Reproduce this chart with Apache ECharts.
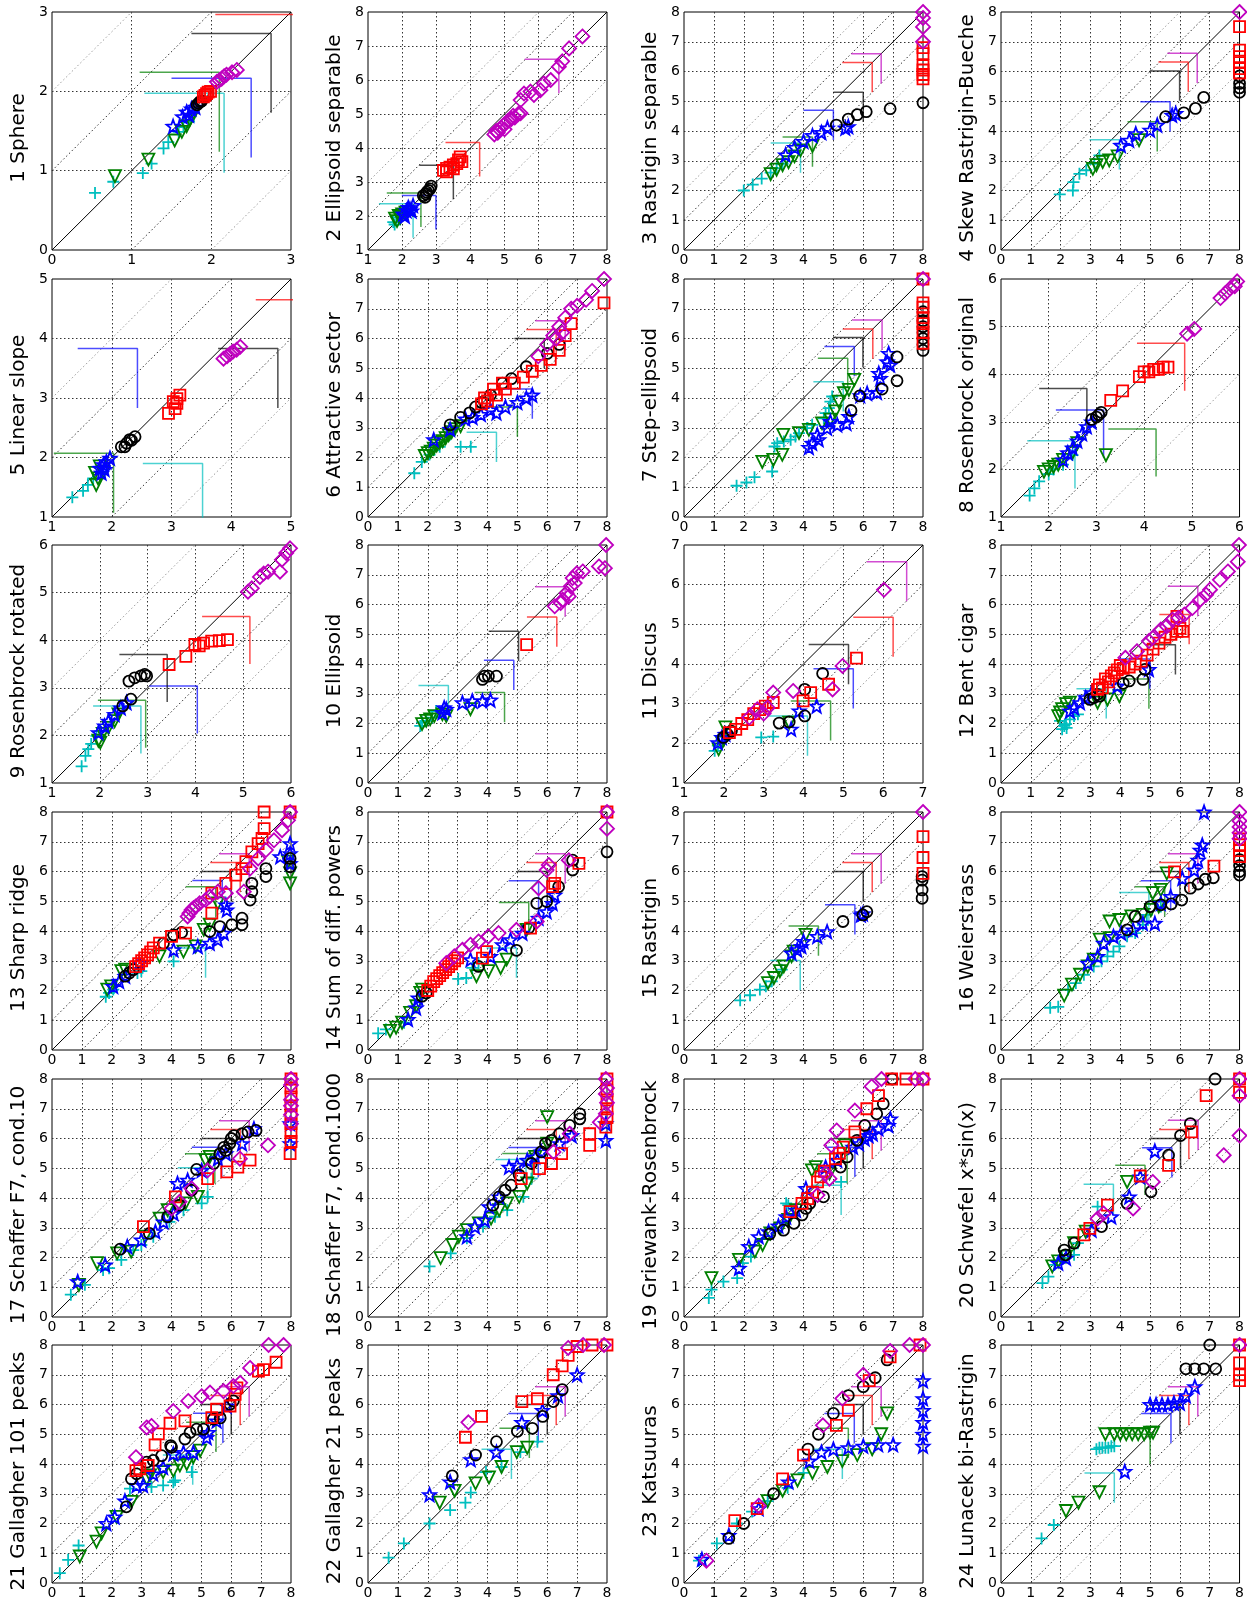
<!DOCTYPE html>
<html><head><meta charset="utf-8">
<script src="https://cdn.jsdelivr.net/npm/echarts@6/dist/echarts.min.js"></script>
<style>html,body{margin:0;padding:0;background:#fff}#c{width:1247px;height:1604px}</style>
</head><body><div id="c"></div>
<script>
const titles = ["1 Sphere","2 Ellipsoid separable","3 Rastrigin separable","4 Skew Rastrigin-Bueche",
"5 Linear slope","6 Attractive sector","7 Step-ellipsoid","8 Rosenbrock original",
"9 Rosenbrock rotated","10 Ellipsoid","11 Discus","12 Bent cigar",
"13 Sharp ridge","14 Sum of diff. powers","15 Rastrigin","16 Weierstrass",
"17 Schaffer F7, cond.10","18 Schaffer F7, cond.1000","19 Griewank-Rosenbrock","20 Schwefel x*sin(x)",
"21 Gallagher 101 peaks","22 Gallagher 21 peaks","23 Katsuuras","24 Lunacek bi-Rastrigin"];
const axisMin = [0,1,0,0, 1,0,0,1, 1,0,1,0, 0,0,0,0, 0,0,0,0, 0,0,0,0];
const axisMax = [3,8,8,8, 5,8,8,6, 6,8,7,8, 8,8,8,8, 8,8,8,8, 8,8,8,8];

const cyanPts = [
[[0.54,0.72],[0.77,0.86],[1.14,0.97],[1.25,1.09],[1.40,1.28],[1.46,1.36],[1.59,1.49],[1.65,1.55],[1.72,1.62]],
[[1.74,1.82],[1.83,1.96],[1.93,2.06],[1.78,1.75]],
[[2.0,2.0],[2.3,2.2],[2.6,2.4],[2.9,2.6],[3.1,2.75],[3.3,2.9]],
[[1.97,1.87],[2.41,2.0],[2.43,2.28],[2.63,2.56],[2.86,2.68],[3.13,2.9],[3.3,3.18]],
[[1.34,1.33],[1.52,1.44],[1.6,1.54],[1.69,1.65]],
[[1.55,1.47],[1.8,1.85],[2.06,2.1],[2.4,2.36],[3.1,2.36],[3.44,2.36],[2.75,2.77],[2.2,2.25]],
[[1.76,1.05],[2.09,1.16],[2.36,1.34],[2.95,1.53],[3.03,2.37],[3.12,2.48],[3.34,2.54],[3.57,2.6],[3.73,2.71],[3.85,2.82],[4.12,2.99],[4.29,3.1],[4.68,3.32],[4.74,3.49],[4.85,3.66],[4.9,3.88],[4.96,4.05]],
[[1.6,1.45],[1.7,1.6],[1.8,1.75],[2.0,1.9],[2.1,2.0],[2.3,2.1],[2.5,2.3]],
[[1.62,1.35],[1.7,1.57],[1.76,1.71],[1.82,1.82],[1.93,1.99],[2.01,2.09]],
[[1.75,1.92],[1.81,2.04],[1.95,2.09],[2.15,2.2],[2.28,2.42]],
[[1.77,1.81],[1.85,1.94],[2.94,2.15],[3.24,2.17]],
[[2.05,1.81],[2.12,1.92],[2.18,1.98],[2.31,2.14],[2.45,2.25],[2.58,2.31],[1.98,2.09],[2.2,1.85]],
[[1.8,1.79],[1.91,1.92],[2.05,2.03],[2.86,2.59],[2.99,2.65],[4.07,2.98]],
[[0.34,0.56],[0.6,0.69],[1.21,0.92],[3.02,2.39],[3.29,2.42],[3.49,2.76],[3.7,2.92]],
[[1.88,1.67],[2.21,1.84],[2.54,2.03],[2.74,2.14],[2.94,2.31],[3.27,2.7]],
[[1.65,1.42],[1.92,1.45],[2.25,2.03],[2.51,2.25],[2.78,2.53],[3.11,2.81],[3.37,2.98],[3.57,3.15],[3.77,3.31],[3.97,3.48],[4.23,3.82],[4.5,3.93],[4.76,4.21],[4.89,4.54],[5.36,4.82]],
[[0.63,0.75],[1.1,1.08],[1.71,1.58],[1.91,1.64],[2.32,1.92],[2.72,2.25],[2.99,2.42],[3.39,2.7],[3.93,3.2],[4.4,3.59],[5.01,3.82],[5.21,4.04]],
[[2.06,1.7],[2.77,2.14],[3.31,2.65],[3.85,3.04],[4.25,3.37],[4.66,3.59],[5.2,4.04],[5.47,4.65]],
[[0.83,0.64],[0.92,0.92],[1.32,1.19],[1.78,1.31],[1.97,1.81],[2.24,2.03],[3.42,3.82],[3.49,3.76],[5.26,4.54]],
[[1.39,1.14],[1.59,1.36],[1.79,1.75],[2.05,1.98],[2.45,2.09],[2.58,2.48],[3.24,3.71]],
[[0.26,0.33],[0.54,0.78],[0.89,1.26],[2.61,3.17],[3.33,3.23],[3.72,3.28],[4.06,3.39],[4.12,3.45],[4.68,3.73]],
[[0.69,0.85],[1.2,1.33],[2.06,2.0],[2.75,2.45],[3.26,2.7],[3.44,3.04],[3.95,3.73],[4.47,3.9],[5.1,4.4],[5.67,4.75]],
[[0.5,0.75],[1.1,1.33],[1.77,2.0],[2.28,2.4],[2.8,2.75],[3.47,3.2],[4.0,3.7]],
[[1.36,1.5],[1.77,1.95],[3.2,4.5],[3.3,4.55],[3.4,4.55],[3.5,4.55],[3.6,4.55],[3.7,4.6],[3.8,4.6]]
];
const greenPts = [
[[0.79,0.93],[1.21,1.14],[1.54,1.38],[1.63,1.49],[1.69,1.56],[1.73,1.64],[1.78,1.72]],
[[1.79,1.92],[1.9,2.0],[2.0,2.05],[2.1,2.1],[1.85,1.85],[1.95,1.95]],
[[2.9,2.55],[3.1,2.7],[3.3,2.85],[3.5,2.95],[3.7,3.15],[3.9,3.35],[4.3,3.5]],
[[3.08,2.73],[3.41,2.96],[3.63,3.01],[3.91,3.15],[4.63,3.69],[3.2,2.85]],
[[1.74,1.54],[1.77,1.65],[1.72,1.74],[1.86,1.76],[1.8,1.85]],
[[1.9,2.05],[2.0,2.15],[2.1,2.2],[2.2,2.3],[2.3,2.4],[2.4,2.5],[2.5,2.55],[2.6,2.65],[2.7,2.75],[2.8,2.85],[2.9,2.95],[3.1,3.05]],
[[2.62,1.85],[2.99,1.92],[3.29,2.09],[3.32,2.76],[3.85,2.82],[4.18,2.93],[4.62,3.15],[4.9,3.27],[5.07,3.55],[5.18,3.88],[5.35,4.16],[5.52,4.27],[5.7,4.61]],
[[1.9,1.95],[2.0,2.0],[2.1,2.05],[2.2,2.1],[2.3,2.2],[2.5,2.35],[2.6,2.55],[3.2,2.3]],
[[1.97,1.89],[2.01,1.85],[2.06,2.03],[2.18,2.16],[2.31,2.3],[2.39,2.44]],
[[1.81,1.98],[1.95,2.09],[2.08,2.14],[2.22,2.25],[2.49,2.31],[2.62,2.25],[3.43,2.48]],
[[1.87,1.85],[1.95,2.02],[2.04,2.4],[3.64,2.52]],
[[1.92,2.25],[1.98,2.37],[2.05,2.48],[2.18,2.65],[2.31,2.7],[3.24,2.7],[3.57,2.81],[3.97,2.92]],
[[1.85,2.03],[1.98,2.14],[2.32,2.65],[2.45,2.7],[3.6,3.15],[4.4,3.31],[4.81,3.48],[5.08,4.04],[5.28,4.21],[5.55,4.93],[7.97,5.6],[7.97,5.94],[7.9,6.33]],
[[0.74,0.64],[0.94,0.75],[1.14,0.92],[1.41,1.25],[1.61,1.47],[1.75,1.92],[1.81,2.03],[3.63,2.48],[4.03,2.65],[4.44,2.76],[4.64,3.04],[5.31,4.04]],
[[2.81,2.25],[3.01,2.42],[3.21,2.65],[3.34,2.81],[3.6,3.15],[3.67,3.31],[4.07,3.87]],
[[2.12,1.83],[2.38,2.2],[2.65,2.53],[2.91,2.81],[3.11,3.04],[3.31,3.71],[3.64,3.76],[3.64,4.32],[3.97,4.37],[4.37,4.49],[4.76,4.54],[5.03,4.71],[5.29,4.82],[5.09,5.27],[5.36,5.38],[5.56,5.94]],
[[0.9,1.08],[1.51,1.81],[2.18,2.14],[2.65,2.2],[3.12,2.7],[3.6,3.31],[3.87,3.59],[4.2,3.71],[4.47,3.82],[4.88,4.04],[5.14,5.27],[5.28,5.38]],
[[2.43,1.98],[2.83,2.42],[3.04,2.7],[3.31,2.92],[3.71,3.15],[4.12,3.31],[4.39,3.59],[4.66,3.82],[5.06,4.04],[5.33,4.49],[5.6,5.38],[6.0,5.83],[6.0,6.72]],
[[0.92,1.31],[1.84,1.92],[2.37,2.2],[2.63,2.42],[2.89,2.81],[3.22,2.98],[3.49,3.26],[3.75,3.59],[4.28,4.93],[4.41,5.04],[4.87,4.82],[5.39,5.77]],
[[1.72,1.7],[1.92,1.87],[2.18,2.03],[2.45,2.48],[2.84,2.87],[4.23,4.54]],
[[0.93,0.89],[1.49,1.39],[1.66,1.67],[2.16,2.22],[2.66,2.73],[3.17,3.5],[3.28,3.62],[3.72,3.73],[4.06,3.78],[4.28,3.95],[4.51,4.0],[4.73,4.23],[4.96,4.45]],
[[2.4,2.7],[2.9,3.1],[3.6,3.35],[4.05,3.55],[4.47,3.9],[4.98,4.4],[5.33,4.55]],
[[2.8,2.75],[3.3,3.1],[3.8,3.45],[4.3,3.7],[4.8,3.9],[5.3,4.1],[5.8,4.3],[6.3,4.5],[6.6,5.0],[6.8,5.7]],
[[2.18,2.42],[2.6,2.7],[3.3,3.05],[3.5,5.0],[3.8,5.0],[4.0,5.0],[4.2,5.0],[4.4,5.0],[4.6,5.0],[4.8,5.0],[5.0,5.05],[5.1,5.05]]
];
const bluePts = [
[[1.52,1.56],[1.64,1.68],[1.69,1.74],[1.75,1.78],[1.80,1.80],[1.72,1.70]],
[[2.03,2.06],[2.13,2.16],[2.32,2.31],[2.23,2.2],[2.08,2.0],[2.18,2.25],[2.28,2.15]],
[[3.4,3.2],[3.7,3.45],[4.0,3.65],[4.3,3.85],[4.6,3.95],[4.8,4.1],[5.4,4.1],[5.5,4.15]],
[[4.02,3.52],[4.3,3.69],[4.52,3.91],[5.0,4.03],[5.24,4.2],[5.74,4.53],[5.86,4.59]],
[[1.8,1.82],[1.86,1.88],[1.91,1.93],[1.97,1.99],[1.83,1.74],[1.88,1.8]],
[[2.2,2.6],[2.75,2.95],[3.26,3.3],[3.78,3.45],[4.1,3.6],[4.3,3.5],[4.6,3.7],[5.0,3.85],[5.3,4.0],[5.5,4.1],[3.5,3.35]],
[[4.18,2.34],[4.29,2.48],[4.46,2.76],[4.51,2.6],[4.79,2.99],[4.9,3.21],[5.13,3.1],[5.44,3.15],[5.52,3.38],[5.9,4.08],[6.13,4.16],[6.46,4.19],[6.52,4.83],[6.57,4.66],[6.8,5.22],[6.85,5.5],[6.9,5.11]],
[[2.3,2.2],[2.4,2.35],[2.5,2.45],[2.6,2.6],[2.7,2.75],[2.8,2.9],[2.9,3.0]],
[[1.97,2.06],[2.1,2.2],[2.18,2.3],[2.31,2.44],[2.44,2.58],[2.56,2.69]],
[[2.49,2.37],[2.55,2.53],[2.62,2.48],[3.16,2.7],[3.49,2.76],[3.83,2.76],[4.1,2.79]],
[[1.85,2.02],[1.95,2.15],[2.04,2.23],[3.69,2.36],[3.89,2.82],[4.33,2.94]],
[[2.31,2.42],[2.45,2.53],[2.65,2.7],[2.84,2.87],[3.04,3.04],[3.9,3.26],[4.96,3.82]],
[[2.05,2.14],[2.25,2.31],[2.45,2.48],[2.92,2.92],[4.07,3.37],[4.88,3.48],[5.28,3.59],[5.55,3.71],[5.75,3.93],[5.85,4.71],[5.82,4.88],[7.97,6.27],[7.97,6.94],[7.64,6.5],[7.97,6.6]],
[[1.34,1.03],[1.61,1.42],[1.68,1.75],[3.43,3.04],[4.1,3.15],[4.5,3.54],[4.77,3.71],[5.17,3.93],[5.71,4.43],[5.98,4.65],[6.18,4.93],[6.25,5.21]],
[[3.6,3.26],[3.79,3.37],[3.93,3.48],[4.0,3.65],[4.46,3.82],[4.79,3.98],[5.92,4.54],[5.99,4.58]],
[[2.91,2.92],[3.24,3.15],[3.44,3.59],[3.77,3.82],[4.03,3.93],[4.43,4.04],[4.76,4.26],[5.16,4.26],[5.36,4.93],[5.69,5.16],[6.08,5.77],[6.48,6.05],[6.61,6.38],[6.68,6.72],[6.75,6.89],[6.81,8]],
[[0.86,1.19],[1.78,1.75],[2.52,2.37],[2.99,2.59],[3.46,2.87],[3.73,3.2],[4.07,3.48],[4.2,4.49],[4.54,4.6],[5.01,4.93],[5.55,5.32],[5.82,5.49],[6.36,5.83],[6.76,6.33],[7.97,5.83],[7.97,6.5]],
[[3.31,2.7],[3.58,3.04],[3.91,3.26],[4.05,3.71],[4.39,4.04],[4.72,5.04],[4.99,5.1],[5.33,5.27],[5.6,5.38],[5.8,5.55],[6.41,5.83],[6.82,6.1],[7.96,5.94],[7.96,6.5]],
[[1.84,1.64],[2.17,2.37],[2.5,2.7],[2.83,2.87],[3.16,3.06],[3.42,3.37],[3.75,3.59],[4.08,4.32],[4.74,5.04],[5.13,5.27],[5.66,5.71],[5.86,5.83],[6.05,5.99],[6.18,6.1],[6.32,6.16],[6.51,6.33],[6.84,6.44],[6.91,6.66]],
[[1.92,1.81],[2.18,1.98],[3.04,2.92],[3.7,3.37],[4.3,4.04],[4.67,4.71],[5.16,5.58]],
[[1.82,2.0],[2.1,2.22],[2.44,2.76],[2.83,3.28],[3.05,3.28],[3.39,3.67],[3.72,3.89],[4.06,4.34],[4.4,4.39],[4.73,4.39],[5.18,4.89],[5.23,5.06],[5.51,5.45],[5.85,5.95]],
[[2.06,2.97],[2.75,3.4],[3.44,4.15],[4.3,4.4],[5.15,5.4],[5.84,5.8],[6.36,6.3],[7.0,7.0]],
[[0.6,0.8],[1.5,1.6],[2.5,2.5],[3.5,3.4],[4.2,4.1],[4.6,4.4],[5.0,4.5],[5.5,4.55],[6.0,4.6],[6.5,4.65],[7.0,4.65],[8,4.6],[8,5.0],[8,5.4],[8,5.8],[8,6.2],[8,6.8]],
[[4.15,3.75],[5.0,6.0],[5.2,6.0],[5.4,6.0],[5.6,6.0],[5.8,6.05],[6.0,6.05],[6.2,6.3],[6.5,6.6]]
];
const blackPts = [
[[1.82,1.83],[1.84,1.85],[1.86,1.87],[1.88,1.88]],
[[2.62,2.6],[2.72,2.7],[2.82,2.8],[2.77,2.75],[2.67,2.55],[2.85,2.88],[2.7,2.65]],
[[5.1,4.2],[5.5,4.4],[5.8,4.55],[6.1,4.65],[6.9,4.75],[8,4.95]],
[[5.52,4.48],[6.13,4.61],[6.52,4.76],[6.8,5.13],[8,5.3],[8,5.45],[8,5.6],[8,5.85]],
[[2.16,2.18],[2.25,2.24],[2.33,2.29],[2.39,2.35],[2.22,2.18],[2.3,2.3]],
[[2.75,3.1],[3.1,3.35],[3.4,3.5],[3.8,3.85],[4.1,4.1],[4.5,4.5],[4.8,4.65],[5.3,5.05],[6.0,5.5],[6.4,5.8],[3.6,3.7]],
[[5.59,3.58],[5.88,4.07],[6.63,4.3],[7.13,5.38],[7.13,4.58],[8,5.6],[8,5.8],[8,6.0],[8,6.2],[8,6.4],[8,6.6],[8,6.9]],
[[2.9,3.05],[3.0,3.1],[3.05,3.15],[3.1,3.2]],
[[2.48,2.62],[2.65,2.76],[2.61,3.14],[2.73,3.21],[2.86,3.25],[2.94,3.28],[2.98,3.25]],
[[3.83,3.48],[3.9,3.59],[4.03,3.59],[4.3,3.59]],
[[1.99,2.15],[2.09,2.23],[2.19,2.31],[3.39,2.51],[3.64,2.54],[4.03,2.69],[4.03,3.36],[4.48,3.76]],
[[2.98,2.81],[3.11,2.87],[3.24,2.98],[3.31,2.92],[4.1,3.35],[4.3,3.43],[4.76,3.48],[4.83,3.82]],
[[2.45,2.48],[2.59,2.59],[2.72,2.7],[3.73,3.59],[4.07,3.87],[4.34,3.95],[5.28,3.98],[5.62,4.15],[6.02,4.21],[6.36,4.43],[6.36,4.21],[6.63,5.04],[6.69,5.32],[6.69,5.6],[7.16,5.83],[7.16,6.1],[7.97,6.44],[7.97,6.16]],
[[1.81,1.81],[1.95,1.92],[3.7,2.81],[4.97,3.35],[5.38,4.1],[5.65,4.93],[5.98,4.99],[6.38,5.49],[6.85,6.05],[6.85,6.38],[8,6.66]],
[[5.32,4.32],[5.99,4.54],[6.12,4.65],[7.97,5.1],[7.97,5.38],[7.97,5.71],[7.97,5.83]],
[[4.23,4.04],[4.5,4.49],[5.0,4.82],[5.36,4.88],[5.71,4.91],[6.06,5.04],[6.35,5.44],[6.61,5.58],[6.85,5.74],[7.12,5.79],[8,5.88],[8,6.0],[8,6.2],[8,6.4]],
[[2.28,2.28],[3.26,2.81],[3.87,3.37],[4.27,3.76],[4.67,4.26],[4.84,4.96],[5.41,5.16],[5.62,5.49],[5.75,5.7],[5.82,5.6],[5.95,5.83],[6.0,6.0],[6.09,6.1],[6.36,6.16],[6.56,6.22],[6.83,6.27]],
[[4.18,3.76],[4.39,4.04],[4.59,4.26],[4.79,4.43],[5.06,4.77],[5.47,5.16],[5.8,5.55],[5.94,5.83],[6.14,5.94],[6.41,6.16],[6.75,6.44],[7.09,6.66],[7.09,6.83]],
[[2.87,2.79],[3.33,2.92],[3.68,3.15],[3.95,3.43],[4.08,3.65],[4.21,3.82],[4.67,4.04],[5.24,5.04],[5.46,5.38],[5.79,5.94],[6.05,6.44],[6.45,6.83],[6.67,7.17],[6.97,8]],
[[2.12,2.25],[2.16,2.09],[2.45,2.48],[3.37,3.04],[4.23,3.82],[5.03,4.21],[5.62,5.44],[6.02,6.1],[6.35,6.5],[7.18,8]],
[[2.49,2.56],[2.66,3.5],[2.83,3.67],[3.17,4.06],[3.39,4.12],[3.67,4.28],[3.97,4.62],[4.0,4.56],[4.45,4.84],[4.62,5.06],[4.84,5.17],[5.07,5.17],[5.4,5.51],[5.63,5.55],[5.96,6.01],[6.07,6.12]],
[[2.82,3.6],[3.6,4.3],[4.3,4.75],[5.0,5.1],[5.5,5.2],[5.85,5.6],[6.2,6.1],[6.5,6.5]],
[[1.5,1.5],[2.0,2.0],[3.0,3.0],[4.15,4.5],[4.5,5.0],[5.0,5.7],[5.5,6.3],[6.0,6.6],[6.4,6.9],[6.8,7.5]],
[[6.2,7.2],[6.5,7.2],[6.8,7.2],[7.2,7.2],[7.0,8.0]]
];
const redPts = [
[[1.90,1.93],[1.92,1.95],[1.94,1.97],[1.99,2.0],[1.96,1.99]],
[[3.21,3.34],[3.3,3.4],[3.40,3.44],[3.5,3.5],[3.6,3.54],[3.7,3.74],[3.5,3.39],[3.75,3.6],[3.65,3.65],[3.3,3.3]],
[[8,5.75],[8,5.9],[8,6.05],[8,6.2],[8,6.6],[8,6.8]],
[[8,7.51],[8,6.72],[8,6.5],[8,6.3],[8,6.1],[8,5.95]],
[[2.95,2.74],[3.06,2.82],[3.09,2.91],[3.09,2.99],[3.14,3.05],[3.03,2.94]],
[[3.8,3.8],[3.9,4.0],[4.0,3.9],[4.2,4.3],[4.3,4.1],[4.5,4.5],[4.6,4.3],[4.9,4.5],[5.2,4.7],[5.5,4.9],[5.8,5.1],[6.1,5.3],[6.4,5.6],[6.6,6.1],[6.8,6.5],[7.9,7.2]],
[[8,5.84],[8,6.2],[8,6.5],[8,6.7],[8,7.05],[8,7.2],[8,8]],
[[3.3,3.45],[3.55,3.65],[3.9,3.95],[4.0,4.05],[4.1,4.05],[4.2,4.1],[4.3,4.1],[4.4,4.15],[4.5,4.15]],
[[3.45,3.49],[3.8,3.66],[3.99,3.91],[4.08,3.88],[4.17,3.94],[4.34,3.98],[4.5,3.99],[4.67,4.01]],
[[5.31,4.65]],
[[2.14,2.27],[2.3,2.35],[2.45,2.5],[2.6,2.6],[2.75,2.75],[2.9,2.85],[3.04,2.94],[3.24,3.03],[3.99,3.07],[4.18,3.28],[4.63,3.49],[5.33,4.15]],
[[3.24,3.15],[3.3,3.3],[3.4,3.2],[3.5,3.5],[3.6,3.4],[3.7,3.6],[3.8,3.7],[3.9,3.8],[4.0,3.95],[4.1,3.85],[4.3,3.9],[4.5,4.0],[4.7,4.1],[4.9,4.3],[5.1,4.5],[5.3,4.7],[5.5,4.9],[5.7,5.0],[5.9,5.1],[6.0,5.2],[5.9,5.6],[6.1,5.1]],
[[2.8,2.8],[2.9,2.9],[3.0,3.0],[3.1,3.1],[3.2,3.2],[3.3,3.3],[3.39,3.43],[3.6,3.59],[4.0,3.82],[4.47,3.93],[5.35,4.6],[5.35,5.27],[5.82,5.6],[6.15,5.88],[6.36,6.1],[6.49,6.33],[6.69,6.66],[6.9,6.94],[7.03,7.11],[7.1,7.44],[7.1,8.0],[7.97,8]],
[[2.0,2.0],[2.1,2.15],[2.2,2.3],[2.3,2.4],[2.4,2.5],[2.5,2.6],[2.6,2.7],[2.7,2.8],[2.8,2.9],[2.9,3.0],[3.0,3.1],[3.83,3.09],[3.97,3.31],[5.44,4.1],[6.18,5.49],[6.25,5.6],[7.06,6.27],[8,8]],
[[8,5.94],[8,6.47],[8,7.17]],
[[5.82,5.99],[7.14,6.18],[8,6.5],[8,6.7],[8,6.9],[8,7.1]],
[[3.06,3.04],[4.13,4.04],[5.21,4.65],[5.85,4.88],[6.22,5.04],[6.63,5.27],[7.97,5.49],[8,5.9],[8,6.2],[8,6.5],[8,6.8],[8,7.1],[8,7.4],[8,7.7],[8,8]],
[[5.13,4.65],[5.74,4.99],[6.14,5.16],[6.48,5.49],[7.42,5.77],[7.42,6.16],[7.96,6.38],[8,6.7],[8,7.0],[8,7.3],[8,7.6],[8,8]],
[[3.55,3.54],[3.95,3.82],[4.14,3.98],[4.3,4.2],[4.47,4.54],[4.58,4.71],[4.7,4.9],[5.07,5.32],[5.2,5.5],[5.33,5.71],[5.72,6.22],[6.12,7.0],[6.51,7.44],[6.95,8],[7.43,8],[8,8]],
[[2.78,2.76],[2.98,2.98],[3.57,3.76],[4.67,4.74],[5.62,5.1],[6.39,6.22],[6.88,7.44],[8,8],[8,7.55]],
[[2.81,3.78],[2.94,3.84],[3.22,3.95],[3.45,4.64],[3.56,5.01],[3.95,5.37],[4.45,5.45],[5.35,5.56],[5.51,5.84],[5.96,5.95],[6.13,6.34],[6.19,6.56],[6.91,7.12],[7.08,7.17],[7.5,7.42]],
[[3.26,4.9],[3.8,5.6],[5.15,6.1],[5.67,6.2],[6.2,7.0],[6.5,7.3],[6.7,7.65],[7.0,7.95],[7.5,8],[8,8]],
[[1.7,2.1],[2.45,2.5],[3.3,3.5],[4.0,4.3],[5.1,5.3],[5.5,5.8],[6.2,6.8],[6.9,7.6],[7.9,8]],
[[8,8],[8,7.4],[8,7.0],[8,6.8]]
];
const magentaPts = [
[[2.07,2.12],[2.13,2.16],[2.19,2.21],[2.26,2.24],[2.32,2.27],[2.10,2.14],[2.16,2.19]],
[[4.7,4.4],[4.75,4.5],[4.8,4.45],[4.85,4.55],[4.9,4.6],[5.0,4.7],[5.1,4.8],[5.2,4.85],[5.3,4.9],[5.4,5.0],[5.0,4.55],[5.25,4.95],[5.47,5.02],[5.57,5.6],[5.47,5.41],[5.76,5.66],[5.86,5.56],[6.05,5.7],[6.15,5.9],[6.35,6.0],[6.59,6.39],[6.69,6.55],[6.89,6.93],[7.28,7.28]],
[[8,7.0],[8,7.5],[8,7.8],[8,8]],
[[8,8]],
[[3.87,3.66],[3.98,3.74],[4.09,3.81],[4.15,3.86],[3.93,3.7],[4.03,3.78]],
[[5.7,5.4],[6.0,5.8],[6.2,6.1],[6.3,6.0],[6.4,6.4],[6.5,6.2],[6.6,6.7],[6.8,7.0],[7.0,7.1],[7.3,7.3],[7.5,7.6],[7.9,8.0]],
[[8,8]],
[[4.9,4.85],[5.05,4.95],[5.6,5.6],[5.7,5.7],[5.8,5.8],[5.9,5.85],[5.95,5.95]],
[[5.1,5.02],[5.18,5.09],[5.35,5.33],[5.43,5.4],[5.52,5.44],[5.77,5.44],[5.81,5.69],[5.9,5.83],[5.98,5.93]],
[[6.25,5.94],[6.45,6.05],[6.52,6.16],[6.65,6.38],[6.72,6.27],[6.79,6.61],[6.85,6.89],[6.92,6.72],[6.99,7.05],[7.19,7.11],[7.73,7.28],[7.93,7.22],[7.97,8.0]],
[[2.64,2.65],[2.84,2.86],[3.0,2.75],[3.1,2.9],[3.24,3.28],[3.74,3.32],[4.73,3.36],[4.98,3.95],[6.02,5.87]],
[[4.17,4.21],[4.56,4.43],[4.96,4.77],[5.09,4.88],[5.36,5.16],[5.56,5.27],[5.75,5.49],[5.95,5.55],[6.15,5.66],[6.42,5.88],[6.68,6.16],[6.88,6.33],[7.01,6.5],[7.34,6.83],[7.61,7.11],[7.94,7.44],[7.98,8]],
[[4.54,4.49],[4.6,4.6],[4.67,4.71],[4.74,4.77],[4.81,4.82],[4.94,4.93],[5.14,5.04],[5.28,5.16],[5.55,5.32],[5.82,5.27],[6.42,5.32],[6.63,6.1],[6.9,6.44],[7.16,6.72],[7.43,7.05],[7.7,7.39],[7.9,7.72],[7.97,8]],
[[2.62,2.92],[2.89,3.15],[3.16,3.37],[3.43,3.54],[3.7,3.65],[4.03,3.82],[4.37,3.93],[4.97,4.04],[5.65,4.32],[5.71,5.44],[5.98,6.05],[6.05,6.22],[6.72,6.38],[8,7.44],[8,8]],
[[8,8]],
[[8,8],[8,7.7],[8,7.5],[8,7.3],[8,7.1]],
[[4.0,3.65],[4.27,3.87],[4.67,4.32],[5.21,4.93],[6.29,5.32],[7.23,5.77],[8,8],[8,7.8],[8,7.3],[8,6.8],[8,6.5],[8,7.1]],
[[6.21,5.55],[6.75,6.16],[7.76,6.55],[7.96,6.83],[7.96,7.5],[7.96,8],[8,7.2],[8,7.7]],
[[4.47,4.1],[4.74,4.82],[4.87,4.65],[4.93,5.77],[5.11,6.27],[5.72,6.94],[6.28,7.75],[6.61,8],[7.74,8],[8,8]],
[[3.24,3.31],[3.44,3.48],[4.43,3.65],[5.09,4.54],[7.47,5.44],[8,6.1],[8,7.44],[8,8]],
[[2.81,4.23],[3.17,5.23],[3.33,5.28],[4.06,5.78],[4.56,6.12],[5.01,6.28],[5.29,6.4],[5.74,6.45],[6.07,6.62],[6.3,6.73],[6.63,7.23],[7.25,8],[7.75,8]],
[[3.36,5.4],[6.7,7.9],[7.2,8],[7.9,8]],
[[0.75,0.75],[2.5,2.6],[4.65,5.3],[5.3,6.2],[6.0,7.0],[6.9,7.8],[7.55,8],[8,8]],
[[8,8]]
];
// corners of the budget marks (x, y) per panel
const cyanL = [[2.16,1.975],[2.32,2.36],[3.9,3.6],[3.97,3.71],[3.52,1.9],[4.3,2.85],[5.33,4.55],[2.55,2.6],[2.86,2.62],[2.69,3.28],[4.1,2.69],[3.53,3.17],[5.14,3.43],[4.97,3.43],[3.89,3.01],[4.96,5.29],[5.21,5.02],[5.29,5.29],[5.26,4.43],[3.77,4.46],[4.71,4.3],[4.8,4.5],[5.3,4.5],[3.8,3.7]];
const greenL = [[2.10,2.24],[2.55,2.68],[4.3,3.8],[5.24,4.31],[2.03,2.07],[5.0,3.7],[5.48,5.34],[4.25,2.85],[2.96,2.74],[4.57,3.04],[4.68,3.07],[4.96,3.5],[5.48,5.49],[5.38,4.96],[4.5,4.17],[5.49,5.49],[5.45,5.49],[5.5,5.5],[5.46,5.49],[4.83,5.1],[5.49,5.4],[5.4,5.2],[5.5,5.2],[5.0,5.0]];
const blueL = [[2.50,2.165],[2.99,2.6],[5.0,4.7],[5.67,4.98],[2.43,3.83],[5.5,4.3],[5.7,5.73],[3.15,3.25],[4.04,3.04],[4.88,4.13],[5.25,3.88],[4.99,4.17],[5.7,5.7],[5.71,5.69],[5.72,4.88],[5.69,5.69],[5.68,5.71],[5.7,5.7],[5.72,5.71],[5.73,5.69],[5.72,5.71],[5.7,5.7],[5.7,5.7],[5.7,5.7]];
const blackL = [[2.75,2.73],[3.5,3.49],[6.0,5.3],[5.99,6.02],[4.78,3.83],[5.9,6.0],[5.99,6.03],[2.8,3.7],[3.41,3.7],[5.04,5.1],[5.13,4.49],[5.85,4.65],[6.0,6.0],[6.0,6.0],[6.0,6.0],[6.0,6.0],[6.02,6.0],[6.0,6.0],[6.0,6.0],[6.02,6.0],[6.0,6.0],[6.0,6.0],[6.0,6.0],[6.0,6.0]];
const redL = [[3.05,2.97],[4.27,4.16],[6.3,6.3],[6.28,6.32],[5.41,4.65],[6.3,6.3],[6.32,6.32],[4.85,4.65],[5.14,4.5],[6.32,5.58],[6.25,5.18],[6.31,5.66],[6.3,6.3],[6.3,6.3],[6.3,6.3],[6.3,6.3],[6.3,6.3],[6.3,6.3],[6.3,6.3],[6.3,6.3],[6.3,6.3],[6.3,6.3],[6.3,6.3],[6.3,6.3]];
const magentaL = [null,[6.59,6.61],[6.6,6.6],[6.58,6.61],null,[6.6,6.6],[6.63,6.62],null,null,[6.6,6.6],[6.59,6.58],[6.6,6.61],[6.6,6.6],[6.6,6.6],[6.6,6.6],[6.6,6.6],[6.6,6.6],[6.6,6.6],[6.6,6.6],[6.61,6.61],[6.6,6.6],[6.6,6.6],[6.6,6.6],[6.6,6.6]];

// ---- presentation ----
const colLeft = [52, 368, 684, 1001];
const rowTop = [12, 279, 545, 812, 1079, 1345];
const PW = 239, PH = 238;

function starPath() {
  let d = '';
  for (let k = 0; k < 10; k++) {
    const r = (k % 2 === 0) ? 10 : 4.2;
    const a = -Math.PI / 2 + k * Math.PI / 5;
    const x = (10 + r * Math.cos(a)).toFixed(2), y = (10 + r * Math.sin(a)).toFixed(2);
    d += (k === 0 ? 'M' : 'L') + x + ',' + y;
  }
  return 'path://' + d + 'Z';
}
const styles = [
  {pts: cyanPts, L: cyanL, color: '#00bfbf', symbol: 'path://M5,0L5,10M0,5L10,5', size: 12},
  {pts: greenPts, L: greenL, color: '#008000', symbol: 'path://M0,0L10,0L5,9Z', size: 12},
  {pts: bluePts, L: blueL, color: '#0000ff', symbol: starPath(), size: 13},
  {pts: blackPts, L: blackL, color: '#000000', symbol: 'circle', size: 11},
  {pts: redPts, L: redL, color: '#ff0000', symbol: 'rect', size: 11},
  {pts: magentaPts, L: magentaL, color: '#bf00bf', symbol: 'diamond', size: 14}
];

const grids = [], xAxes = [], yAxes = [], series = [];
for (let i = 0; i < 24; i++) {
  const r = Math.floor(i / 4), c = i % 4;
  const mn = axisMin[i], mx = axisMax[i];
  grids.push({left: colLeft[c], top: rowTop[r], width: PW, height: PH, show: true,
    borderColor: '#000', borderWidth: 1, backgroundColor: 'rgba(0,0,0,0)'});
  const lab = {fontFamily: 'DejaVu Sans', fontSize: 14, color: '#000', showMinLabel: true, showMaxLabel: true, margin: 4};
  const common = {type: 'value', gridIndex: i, min: mn, max: mx, interval: 1,
    axisLine: {show: false}, axisTick: {show: false},
    splitLine: {show: true, showMinLine: false, showMaxLine: false, lineStyle: {type: [1.5, 2.5], color: '#333', width: 1}}};
  xAxes.push(Object.assign({}, common, {axisLabel: Object.assign({}, lab, {margin: 3})}));
  yAxes.push(Object.assign({}, common, {axisLabel: lab, name: titles[i], nameLocation: 'middle', nameRotate: 90, nameGap: 23,
    nameTextStyle: {fontFamily: 'DejaVu Sans', fontSize: 20, color: '#000', padding: [0, 14, 0, 0]}}));
  const base = {xAxisIndex: i, yAxisIndex: i, silent: true, animation: false};
  series.push(Object.assign({}, base, {type: 'line', data: [[mn, mn], [mx, mx]], symbol: 'none',
    lineStyle: {color: '#000', width: 1}, z: 2}));
  [1, 2, -1, -2].forEach(k => {
    const d = k > 0 ? [[mn, mn + k], [mx - k, mx]] : [[mn - k, mn], [mx, mx + k]];
    series.push(Object.assign({}, base, {type: 'line', data: d, symbol: 'none',
      lineStyle: {color: Math.abs(k) === 1 ? '#333' : '#999', width: 1, type: [1.5, 2.5]}, z: 1}));
  });
  styles.forEach(s => {
    const corner = s.L[i];
    if (corner) {
      const a = corner[0], b = corner[1];
      series.push(Object.assign({}, base, {type: 'line', clip: true, symbol: 'none',
        data: [[a - 1, b], [a, b], [a, b - 1]],
        lineStyle: {color: s.color, width: 1.5, opacity: 0.7}, z: 2}));
    }
  });
  styles.forEach(s => {
    series.push(Object.assign({}, base, {type: 'scatter', data: s.pts[i], symbol: s.symbol, symbolSize: s.size,
      clip: false, itemStyle: {color: 'rgba(0,0,0,0)', borderColor: s.color, borderWidth: 1.8, opacity: 1}, z: 3}));
  });
}

const chart = echarts.init(document.getElementById('c'), null, {renderer: 'canvas', width: 1247, height: 1604});
chart.setOption({animation: false, grid: grids, xAxis: xAxes, yAxis: yAxes, series: series});
</script></body></html>
